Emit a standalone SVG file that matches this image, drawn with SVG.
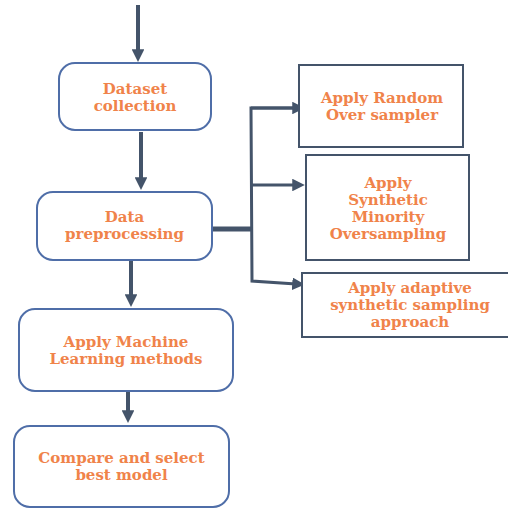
<svg xmlns="http://www.w3.org/2000/svg" width="508" height="508" viewBox="0 0 508 508">
  <style>
    .step { fill: #ffffff; stroke: #4f6ea8; stroke-width: 2; }
    .method { fill: #ffffff; stroke: #44546a; stroke-width: 2; }
    .label { font-family: "DejaVu Serif", "Liberation Serif", serif; font-weight: bold; font-size: 15px; fill: #f0834a; text-anchor: middle; }
    .flow { fill: none; stroke: #44546a; stroke-width: 4; }
    .branch { fill: none; stroke: #44546a; stroke-width: 3; }
  </style>
  <defs>
    <marker id="head" viewBox="0 0 10 10" refX="3" refY="5" markerWidth="3.2" markerHeight="3.2" orient="auto">
      <path d="M0,0 L10,5 L0,10 z" fill="#44546a"/>
    </marker>
    <marker id="headSmall" viewBox="0 0 10 10" refX="3" refY="5" markerWidth="4.2" markerHeight="4.2" orient="auto">
      <path d="M0,0 L10,5 L0,10 z" fill="#44546a"/>
    </marker>
  </defs>

  <g id="connectors">
    <line class="flow" x1="138" y1="5" x2="138" y2="53" marker-end="url(#head)"/>
    <line class="flow" x1="141" y1="132" x2="141" y2="181" marker-end="url(#head)"/>
    <line class="flow" x1="131" y1="261" x2="131" y2="298" marker-end="url(#head)"/>
    <line class="flow" x1="128" y1="392" x2="128" y2="414" marker-end="url(#head)"/>
    <!-- trunk from preprocessing into the vertical bus -->
    <line class="flow" x1="212" y1="229" x2="253" y2="229" style="stroke-width:5"/>
    <polyline class="branch" points="296,108 251,108 252,281 296,284" marker-end="url(#headSmall)"/>
    <line class="branch" x1="252" y1="185" x2="296" y2="185" marker-end="url(#headSmall)"/>
    <line class="branch" x1="251" y1="108" x2="296" y2="108" marker-end="url(#headSmall)"/>
  </g>

  <g id="dataset-collection">
    <rect class="step" x="59" y="63" width="152" height="67" rx="16"/>
    <text class="label" x="135" y="94">Dataset</text>
    <text class="label" x="135" y="111">collection</text>
  </g>

  <g id="data-preprocessing">
    <rect class="step" x="37" y="192" width="175" height="68" rx="16"/>
    <text class="label" x="124.5" y="222">Data</text>
    <text class="label" x="124.5" y="239">preprocessing</text>
  </g>

  <g id="apply-ml">
    <rect class="step" x="19" y="309" width="214" height="82" rx="16"/>
    <text class="label" x="126" y="347">Apply Machine</text>
    <text class="label" x="126" y="364">Learning methods</text>
  </g>

  <g id="compare-select">
    <rect class="step" x="14" y="426" width="215" height="81" rx="16"/>
    <text class="label" x="121.5" y="463">Compare and select</text>
    <text class="label" x="121.5" y="480">best model</text>
  </g>

  <g id="random-oversampler">
    <rect class="method" x="299" y="65" width="164" height="82"/>
    <text class="label" x="382" y="103">Apply Random</text>
    <text class="label" x="382" y="120">Over sampler</text>
  </g>

  <g id="smote">
    <rect class="method" x="306" y="155" width="163" height="105"/>
    <text class="label" x="388" y="188">Apply</text>
    <text class="label" x="388" y="205">Synthetic</text>
    <text class="label" x="388" y="222">Minority</text>
    <text class="label" x="388" y="239">Oversampling</text>
  </g>

  <g id="adasyn">
    <rect class="method" x="302" y="273" width="210" height="64"/>
    <text class="label" x="410" y="293">Apply adaptive</text>
    <text class="label" x="410" y="310">synthetic sampling</text>
    <text class="label" x="410" y="327">approach</text>
  </g>
</svg>
